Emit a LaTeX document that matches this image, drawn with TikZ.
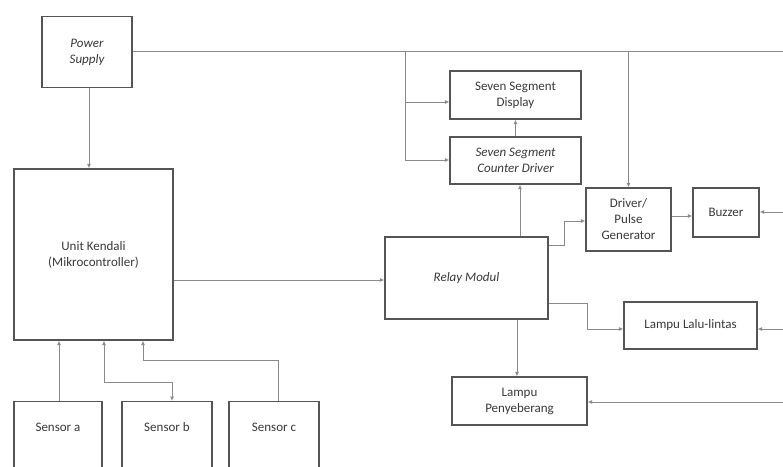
\documentclass[tikz,border=0pt]{standalone}
\usepackage{fontspec}
\setmainfont{Carlito}
\usetikzlibrary{arrows.meta,calc}
\definecolor{linegray}{HTML}{8A8A8A}
\definecolor{boxgray}{HTML}{555555}
\definecolor{txtgray}{HTML}{3A3A3A}
\tikzset{
  blk/.style={draw=boxgray, line width=1.3pt, fill=white, inner sep=1pt, align=center,
    text=txtgray, font=\fontsize{13}{16}\selectfont},
  lbl/.style={text=txtgray, font=\fontsize{13}{16}\selectfont, inner sep=0pt},
  conn/.style={draw=linegray, line width=0.9pt},
  arr/.style={conn, -{Latex[length=4.5pt,width=4pt]}},
  darr/.style={conn, {Latex[length=4.5pt,width=4pt]}-{Latex[length=4.5pt,width=4pt]}}
}
\begin{document}
\begin{tikzpicture}[x=1pt,y=-1pt]
\clip (0,0) rectangle (783,466);
\fill[white] (0,0) rectangle (783,466);
% boxes
\node[blk, minimum width=90, minimum height=71] (ps) at (87,52) {\itshape Power\\\itshape Supply};
\node[blk, minimum width=159, minimum height=171] (uk) at (93.5,254.5) {Unit Kendali\\(Mikrocontroller)};
\node[blk, minimum width=163, minimum height=82] (relay) at (466.5,278) {\itshape Relay Modul};
\node[blk, minimum width=131, minimum height=48] (ssd) at (515.5,95) {Seven Segment\\Display};
\node[blk, minimum width=131, minimum height=47] (sscd) at (515.5,160.5) {\itshape Seven Segment\\\itshape Counter Driver};
\node[blk, minimum width=85, minimum height=63] (drv) at (628.5,219.5) {Driver/\\Pulse\\Generator};
\node[blk, minimum width=66, minimum height=49] (buz) at (726,212.5) {Buzzer};
\node[blk, minimum width=133, minimum height=47] (ll) at (690.5,325.5) {Lampu Lalu-lintas};
\node[blk, minimum width=135, minimum height=48] (lp) at (519.5,401) {Lampu\\Penyeberang};
\node[blk, minimum width=88, minimum height=80, anchor=north] (sa) at (58,401) {};
\node[blk, minimum width=90, minimum height=80, anchor=north] (sb) at (167,401) {};
\node[blk, minimum width=90, minimum height=80, anchor=north] (sc) at (274,401) {};
\node[lbl] (sal) at ([yshift=-26pt]sa.north) {Sensor a};
\node[lbl] (sbl) at ([yshift=-26pt]sb.north) {Sensor b};
\node[lbl] (scl) at ([yshift=-26pt]sc.north) {Sensor c};
% free ends
\coordinate (busR) at (783,51);
\coordinate (b1) at (405,51);
\coordinate (b2) at (628.5,51);
\coordinate (inBuz) at (783,212);
\coordinate (inLL) at (783,329);
\coordinate (inLP) at (783,402);
% connectors
\draw[conn] (ps.east |- busR) -- (busR);
\draw[arr] (89,0 |- ps.south) -- (89,0 |- uk.north);
\draw[arr] (uk.east |- 0,280) -- (relay.west |- 0,280);
\draw[conn] (b1) -- (405,160);
\draw[arr] (405,160) -- (sscd.west |- 0,160);
\draw[arr] (405,102) -- (ssd.west |- 0,102);
\draw[arr] (sscd.north) -- (ssd.south);
\draw[arr] (520,0 |- relay.north) -- (520,0 |- sscd.south);
\draw[arr] (b2) -- (drv.north);
\draw[arr] (relay.east |- 0,245) -- (564,245) -- (564,221) -- (drv.west |- 0,221);
\draw[arr] (drv.east |- 0,216) -- (buz.west |- 0,216);
\draw[arr] (inBuz) -- (buz.east |- inBuz);
\draw[arr] (relay.east |- 0,303) -- (587,303) -- (587,329) -- (ll.west |- 0,329);
\draw[arr] (inLL) -- (ll.east |- inLL);
\draw[arr] (517,0 |- relay.south) -- (517,0 |- lp.north);
\draw[arr] (inLP) -- (lp.east |- inLP);
\draw[arr] (59,0 |- sa.north) -- (59,0 |- uk.south);
\draw[darr] (104,0 |- uk.south) -- (104,382) -- (172,382) -- (172,0 |- sb.north);
\draw[arr] (278,0 |- sc.north) -- (278,360) -- (143,360) -- (143,0 |- uk.south);
\end{tikzpicture}
\end{document}
